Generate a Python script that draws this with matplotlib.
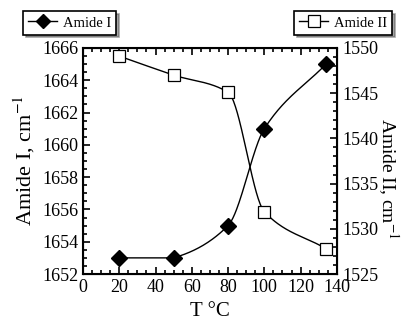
import numpy as np
import matplotlib
matplotlib.use("Agg")
import matplotlib.pyplot as plt
from matplotlib.ticker import MultipleLocator

# ── Data ──────────────────────────────────────────────────────────
temp = [20, 50, 80, 100, 134]
amide1 = [1653, 1653, 1655, 1661, 1665]
amide2 = [1549.1, 1547.0, 1545.1, 1531.9, 1527.8]


def smooth(x, y, n=60):
    """Piecewise cubic Hermite curve through the points (pchip-like tangents,
    a flat segment keeps zero slope only on its own side)."""
    x = np.asarray(x, float)
    y = np.asarray(y, float)
    h = np.diff(x)
    d = np.diff(y) / h
    npts = len(x)
    m_in = np.zeros(npts)   # tangent at the end of the arriving segment
    m_out = np.zeros(npts)  # tangent at the start of the leaving segment
    m_out[0] = d[0]
    m_in[-1] = d[-1]
    for k in range(1, npts - 1):
        a, b = d[k - 1], d[k]
        if a * b > 0:
            w1 = 2 * h[k] + h[k - 1]
            w2 = h[k] + 2 * h[k - 1]
            m = (w1 + w2) / (w1 / a + w2 / b)
            m_in[k] = m_out[k] = m
        else:
            m_in[k] = 0.0 if a == 0 else 0.5 * a
            m_out[k] = 0.0 if b == 0 else 0.5 * b
    xs_all, ys_all = [], []
    for k in range(npts - 1):
        t = np.linspace(0, 1, n)
        h00 = 2 * t**3 - 3 * t**2 + 1
        h10 = t**3 - 2 * t**2 + t
        h01 = -2 * t**3 + 3 * t**2
        h11 = t**3 - t**2
        xs_all.append(x[k] + t * h[k])
        ys_all.append(h00 * y[k] + h10 * h[k] * m_out[k]
                      + h01 * y[k + 1] + h11 * h[k] * m_in[k + 1])
    return np.concatenate(xs_all), np.concatenate(ys_all)


plt.rcParams["font.family"] = ["Liberation Serif", "DejaVu Serif"]
plt.rcParams["mathtext.fontset"] = "stix"

fig = plt.figure(figsize=(4.01, 3.22), dpi=100)
ax = fig.add_axes([0.207, 0.149, 0.633, 0.702])
ax2 = ax.twinx()

# Amide I
xs, ys = smooth(temp, amide1)
ax.plot(xs, ys, color="black", lw=1)
ax.plot(temp, amide1, ls="none", marker="D", ms=8, color="black")
h1, = ax.plot([], [], color="black", lw=1, marker="D", ms=7)

# Amide II
xs, ys = smooth(temp, amide2)
ax2.plot(xs, ys, color="black", lw=1)
ax2.plot(temp, amide2, ls="none", marker="s", ms=9, mfc="white",
         mec="black", mew=0.9)
h2, = ax2.plot([], [], color="black", lw=1, marker="s", ms=8,
               mfc="white", mec="black", mew=0.9)

ax.set_xlim(0, 140)
ax.set_ylim(1652, 1666)
ax2.set_ylim(1525, 1550)

ax.xaxis.set_major_locator(MultipleLocator(20))
ax.xaxis.set_minor_locator(MultipleLocator(5))
ax.yaxis.set_major_locator(MultipleLocator(2))
ax.yaxis.set_minor_locator(MultipleLocator(0.5))
ax2.yaxis.set_major_locator(MultipleLocator(5))
ax2.yaxis.set_minor_locator(MultipleLocator(1))

ax.tick_params(which="both", direction="in", top=True, labelsize=13, width=1.2)
ax.tick_params(which="major", length=5)
ax.tick_params(which="minor", length=3)
ax2.tick_params(which="both", direction="in", labelsize=13, width=1.2, pad=4)
ax2.tick_params(which="major", length=5)
ax2.tick_params(which="minor", length=3)
for sp in ax.spines.values():
    sp.set_linewidth(1.5)

ax.set_xlabel("T \u00b0C", fontsize=15)
ax.xaxis.set_label_coords(0.5, -0.125)
ax.set_ylabel("Amide I, cm$^{-1}$", fontsize=16)
ax.yaxis.set_label_coords(-0.18, 0.5)
ax2.set_ylabel("Amide II, cm$^{-1}$", fontsize=14, rotation=270)
ax2.yaxis.set_label_coords(1.25, 0.42)

leg_kw = dict(fontsize=10.5, frameon=True, fancybox=False, shadow=True,
              edgecolor="black", borderpad=0.35, handlelength=2.0,
              handletextpad=0.4, borderaxespad=0, numpoints=1)
l1 = fig.legend([h1], ["Amide I"], loc="upper left",
                bbox_to_anchor=(0.057, 0.965), **leg_kw)
l2 = fig.legend([h2], ["Amide II"], loc="upper right",
                bbox_to_anchor=(0.978, 0.965), **leg_kw)
for lg in (l1, l2):
    lg.get_frame().set_linewidth(1.2)

fig.savefig("out.png", dpi=100)
